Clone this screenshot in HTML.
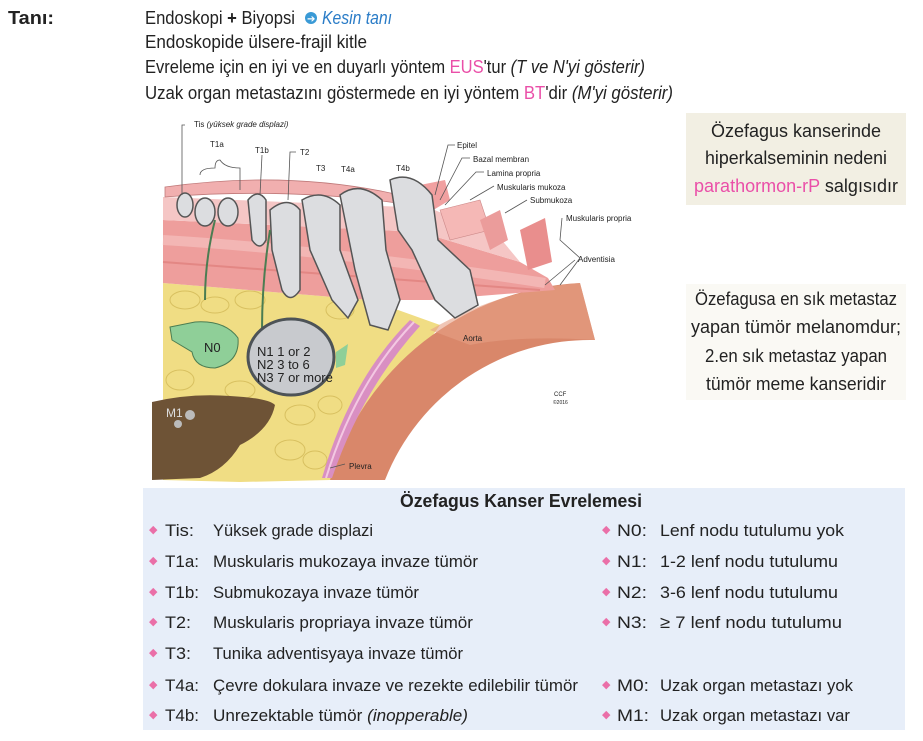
<!DOCTYPE html>
<html><head><meta charset="utf-8"><style>
html,body{margin:0;padding:0;background:#fff;}
svg{display:block;font-family:"Liberation Sans",sans-serif;}
</style></head><body>
<svg width="923" height="741" viewBox="0 0 923 741" xmlns="http://www.w3.org/2000/svg">
<rect width="923" height="741" fill="#fff"/>
<text x="8" y="24" font-size="18" font-weight="bold" fill="#222" textLength="46" lengthAdjust="spacingAndGlyphs">Tanı:</text>
<g font-size="18" fill="#222">
<text x="145" y="24" textLength="150" lengthAdjust="spacingAndGlyphs">Endoskopi <tspan font-weight="bold">+</tspan> Biyopsi</text>
<circle cx="311" cy="18" r="6" fill="#3a9ad6"/><text x="307" y="22" font-size="10" fill="#fff">➔</text>
<text x="322" y="24" font-style="italic" fill="#2a7cc7" textLength="70" lengthAdjust="spacingAndGlyphs">Kesin tanı</text>
<text x="145" y="48" textLength="222" lengthAdjust="spacingAndGlyphs">Endoskopide ülsere-frajil kitle</text>
<text x="145" y="73" textLength="500" lengthAdjust="spacingAndGlyphs">Evreleme için en iyi ve en duyarlı yöntem <tspan fill="#ea4fa8">EUS</tspan>'tur <tspan font-style="italic">(T ve N'yi gösterir)</tspan></text>
<text x="145" y="99" textLength="528" lengthAdjust="spacingAndGlyphs">Uzak organ metastazını göstermede en iyi yöntem <tspan fill="#ea4fa8">BT</tspan>'dir <tspan font-style="italic">(M'yi gösterir)</tspan></text>
</g>
<rect x="686" y="113" width="220" height="92" fill="#f2efe3"/>
<g font-size="18" fill="#222" text-anchor="middle">
<text x="796" y="137" textLength="170" lengthAdjust="spacingAndGlyphs">Özefagus kanserinde</text>
<text x="796" y="164" textLength="182" lengthAdjust="spacingAndGlyphs">hiperkalseminin nedeni</text>
<text x="796" y="192" textLength="204" lengthAdjust="spacingAndGlyphs"><tspan fill="#ea4fa8">parathormon-rP</tspan> salgısıdır</text>
</g>
<rect x="686" y="284" width="220" height="116" fill="#faf9f4"/>
<g font-size="18" fill="#222" text-anchor="middle">
<text x="796" y="305" textLength="202" lengthAdjust="spacingAndGlyphs">Özefagusa en sık metastaz</text>
<text x="796" y="333" textLength="210" lengthAdjust="spacingAndGlyphs">yapan tümör melanomdur;</text>
<text x="796" y="362" textLength="182" lengthAdjust="spacingAndGlyphs">2.en sık metastaz yapan</text>
<text x="796" y="390" textLength="180" lengthAdjust="spacingAndGlyphs">tümör meme kanseridir</text>
</g>
<path d="M163 283 L370 300 L440 325 L330 480 L240 482 L163 480 Z" fill="#f0dd84"/>
<g fill="none" stroke="#d8c060" stroke-width="1">
<ellipse cx="185" cy="300" rx="15" ry="9"/><ellipse cx="215" cy="305" rx="14" ry="8"/><ellipse cx="250" cy="300" rx="15" ry="9"/><ellipse cx="180" cy="380" rx="14" ry="10"/><ellipse cx="240" cy="390" rx="15" ry="9"/><ellipse cx="300" cy="415" rx="15" ry="10"/><ellipse cx="290" cy="450" rx="15" ry="10"/><ellipse cx="330" cy="405" rx="12" ry="9"/><ellipse cx="200" cy="440" rx="14" ry="9"/><ellipse cx="340" cy="310" rx="14" ry="9"/><ellipse cx="315" cy="460" rx="12" ry="9"/>
</g>
<path d="M330 480 A275 275 0 0 1 580 283 L595 340 A220 220 0 0 0 385 480 Z" fill="#d9876a"/>
<path d="M430 330 Q500 290 580 283 L595 340 Q520 335 470 345 Z" fill="#e6a085" opacity=".6"/>
<path d="M322 478 Q350 380 410 320 L420 326 Q362 390 332 478 Z" fill="#d98fc2"/>
<path d="M326 478 Q356 382 414 322" stroke="#f3c8e2" stroke-width="2" fill="none"/>
<path d="M163 220 L420 232 L520 262 L548 278 L555 290 L430 300 L370 300 L163 283 Z" fill="#ee9e9c"/>
<path d="M163 240 Q330 250 545 283" stroke="#f7c7c4" stroke-width="10" fill="none" opacity=".6"/>
<path d="M163 262 Q330 275 540 290" stroke="#e38784" stroke-width="2" fill="none"/>
<path d="M163 197 L430 208 L500 238 L520 262 L420 232 L163 220 Z" fill="#f5c6c5"/>
<path d="M165 187 Q300 168 420 200 L430 208 Q300 186 165 197 Z" fill="#f1afaf" stroke="#c07a7a" stroke-width=".8"/>
<path d="M420 185 L445 180 L450 200 L430 212 Z" fill="#f1a0a0"/>
<path d="M440 210 L480 200 L490 230 L450 240 Z" fill="#f5b8b6" stroke="#c88" stroke-width=".6"/>
<path d="M480 220 L500 210 L508 240 L490 250 Z" fill="#eb9c9b"/>
<path d="M520 230 L545 218 L552 262 L528 270 Z" fill="#e98e8d"/>
<g fill="#dcdde0" stroke="#555" stroke-width="1.5">
<ellipse cx="185" cy="205" rx="8" ry="12"/>
<ellipse cx="205" cy="212" rx="10" ry="14"/>
<ellipse cx="228" cy="212" rx="10" ry="14"/>
<path d="M248 200 Q258 188 266 200 L266 240 Q260 252 252 240 Z"/>
<path d="M270 210 Q288 195 300 210 L300 290 Q290 305 282 290 L272 250 Z"/>
<path d="M302 200 Q322 188 340 205 L340 250 L358 300 L348 318 L332 300 L310 250 Z"/>
<path d="M340 195 Q360 180 382 200 L386 250 L400 300 L388 330 L370 325 L355 270 Z"/>
<path d="M390 180 Q412 170 432 195 L438 240 L470 270 L478 305 L455 318 L435 300 L412 250 L398 230 Z"/>
</g>
<path d="M170 327 L195 322 Q225 320 238 338 Q240 362 215 368 Q195 368 192 352 L172 340 Z" fill="#8fcf98" stroke="#4b7d52" stroke-width="1"/>
<path d="M205 300 Q205 260 215 220" stroke="#4b7d52" stroke-width="2" fill="none"/>
<path d="M262 330 Q262 280 270 230" stroke="#4b7d52" stroke-width="2" fill="none"/>
<ellipse cx="291" cy="357" rx="43" ry="38" fill="#c8cace" stroke="#4d5357" stroke-width="3"/>
<path d="M336 352 L348 344 L345 365 L336 368 Z" fill="#8fcf98"/>
<text x="204" y="352" font-size="13" fill="#222">N0</text>
<g font-size="13" fill="#222"><text x="257" y="356">N1 1 or 2</text><text x="257" y="369">N2 3 to 6</text><text x="257" y="382">N3 7 or more</text></g>
<path d="M152 402 Q190 393 230 396 Q268 398 275 405 Q270 430 240 445 Q225 470 200 478 L152 480 Z" fill="#6e5336"/>
<circle cx="190" cy="415" r="5" fill="#bbb"/><circle cx="178" cy="424" r="4" fill="#bbb"/>
<text x="166" y="417" font-size="12" fill="#ddd">M1</text>
<g font-size="8" fill="#222">
<text x="194" y="127">Tis <tspan font-style="italic">(yüksek grade displazi)</tspan></text>
<text x="210" y="147">T1a</text><text x="255" y="153">T1b</text><text x="300" y="155">T2</text>
<text x="316" y="171">T3</text><text x="341" y="172">T4a</text><text x="396" y="171">T4b</text>
<text x="457" y="148">Epitel</text><text x="473" y="162">Bazal membran</text><text x="487" y="176">Lamina propria</text>
<text x="497" y="190">Muskularis mukoza</text><text x="530" y="203">Submukoza</text><text x="566" y="221">Muskularis propria</text>
<text x="578" y="262">Adventisia</text><text x="463" y="341">Aorta</text><text x="349" y="469">Plevra</text>
<text x="554" y="396" font-size="6">CCF</text><text x="553" y="404" font-size="5">©2016</text>
</g>
<g stroke="#555" stroke-width=".8" fill="none">
<path d="M185 125 L182 125 L182 195"/><path d="M200 175 Q200 168 215 168 Q215 160 220 160 Q225 168 240 168 Q240 175 240 190"/>
<path d="M262 155 L260 195"/><path d="M296 152 L290 152 L288 200"/>
<path d="M455 145 L448 145 L435 195"/><path d="M470 158 L462 158 L440 200"/><path d="M484 172 L476 172 L445 205"/>
<path d="M494 186 L470 200"/><path d="M527 200 L505 213"/><path d="M562 218 L560 240 L580 258 L560 285"/><path d="M575 260 L545 285"/>
<path d="M345 464 L330 468"/>
</g>
<rect x="143" y="488" width="762" height="242" fill="#e7eef9"/>
<text x="521" y="507" font-size="18" font-weight="bold" fill="#222" text-anchor="middle" textLength="242" lengthAdjust="spacingAndGlyphs">Özefagus Kanser Evrelemesi</text>
<g font-size="17" fill="#222">
<g fill="#ea6fa8" font-size="11"><text x="149" y="533">◆</text><text x="149" y="564">◆</text><text x="149" y="595">◆</text><text x="149" y="625">◆</text><text x="149" y="656">◆</text><text x="149" y="688">◆</text><text x="149" y="718">◆</text>
<text x="602" y="533">◆</text><text x="602" y="564">◆</text><text x="602" y="595">◆</text><text x="602" y="625">◆</text><text x="602" y="688">◆</text><text x="602" y="718">◆</text></g>
<text x="165" y="536" textLength="29" lengthAdjust="spacingAndGlyphs">Tis:</text><text x="213" y="536" textLength="160" lengthAdjust="spacingAndGlyphs">Yüksek grade displazi</text>
<text x="165" y="567" textLength="34" lengthAdjust="spacingAndGlyphs">T1a:</text><text x="213" y="567" textLength="265" lengthAdjust="spacingAndGlyphs">Muskularis mukozaya invaze tümör</text>
<text x="165" y="598" textLength="34" lengthAdjust="spacingAndGlyphs">T1b:</text><text x="213" y="598" textLength="206" lengthAdjust="spacingAndGlyphs">Submukozaya invaze tümör</text>
<text x="165" y="628" textLength="26" lengthAdjust="spacingAndGlyphs">T2:</text><text x="213" y="628" textLength="260" lengthAdjust="spacingAndGlyphs">Muskularis propriaya invaze tümör</text>
<text x="165" y="659" textLength="26" lengthAdjust="spacingAndGlyphs">T3:</text><text x="213" y="659" textLength="250" lengthAdjust="spacingAndGlyphs">Tunika adventisyaya invaze tümör</text>
<text x="165" y="691" textLength="34" lengthAdjust="spacingAndGlyphs">T4a:</text><text x="213" y="691" textLength="365" lengthAdjust="spacingAndGlyphs">Çevre dokulara invaze ve rezekte edilebilir tümör</text>
<text x="165" y="721" textLength="34" lengthAdjust="spacingAndGlyphs">T4b:</text><text x="213" y="721" textLength="255" lengthAdjust="spacingAndGlyphs">Unrezektable tümör <tspan font-style="italic">(inopperable)</tspan></text>
<text x="617" y="536" textLength="30" lengthAdjust="spacingAndGlyphs">N0:</text><text x="660" y="536" textLength="184" lengthAdjust="spacingAndGlyphs">Lenf nodu tutulumu yok</text>
<text x="617" y="567" textLength="30" lengthAdjust="spacingAndGlyphs">N1:</text><text x="660" y="567" textLength="178" lengthAdjust="spacingAndGlyphs">1-2 lenf nodu tutulumu</text>
<text x="617" y="598" textLength="30" lengthAdjust="spacingAndGlyphs">N2:</text><text x="660" y="598" textLength="178" lengthAdjust="spacingAndGlyphs">3-6 lenf nodu tutulumu</text>
<text x="617" y="628" textLength="30" lengthAdjust="spacingAndGlyphs">N3:</text><text x="660" y="628" textLength="182" lengthAdjust="spacingAndGlyphs">≥ 7 lenf nodu tutulumu</text>
<text x="617" y="691" textLength="32" lengthAdjust="spacingAndGlyphs">M0:</text><text x="660" y="691" textLength="193" lengthAdjust="spacingAndGlyphs">Uzak organ metastazı yok</text>
<text x="617" y="721" textLength="32" lengthAdjust="spacingAndGlyphs">M1:</text><text x="660" y="721" textLength="190" lengthAdjust="spacingAndGlyphs">Uzak organ metastazı var</text>
</g>
</svg>
</body></html>
